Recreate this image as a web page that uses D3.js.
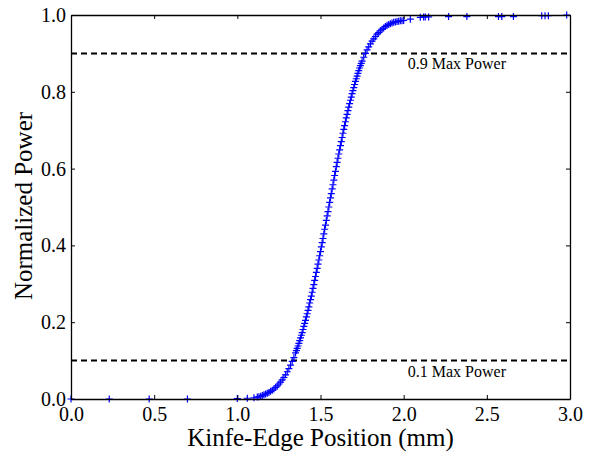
<!DOCTYPE html>
<html>
<head>
<meta charset="utf-8">
<script src="https://cdn.jsdelivr.net/npm/d3@7"></script>
<style>
body { margin: 0; background: white; }
.axis path, .axis line { stroke: #000; }
.axis text { font-family: "Liberation Serif", "DejaVu Serif", serif; font-size: 20px; fill: #000; }
</style>
</head>
<body>
<script>

// knife-edge position (mm) and normalized power
const position = [
  0.00, 0.23, 0.47, 0.70, 1.00, 1.06, 1.10, 1.12, 1.13, 1.14, 1.15, 1.16, 1.17, 1.18, 1.19,
  1.20, 1.21, 1.22, 1.23, 1.24, 1.25, 1.26, 1.27, 1.28, 1.29, 1.30, 1.31, 1.32, 1.33, 1.34,
  1.35, 1.355, 1.36, 1.365, 1.37, 1.375, 1.38, 1.385, 1.39, 1.395, 1.40, 1.405, 1.41, 1.415,
  1.42, 1.425, 1.43, 1.435, 1.44, 1.445, 1.45, 1.455, 1.46, 1.465, 1.47, 1.475, 1.48, 1.485,
  1.49, 1.495, 1.50, 1.505, 1.51, 1.515, 1.52, 1.525, 1.53, 1.535, 1.54, 1.545, 1.55, 1.555,
  1.56, 1.565, 1.57, 1.575, 1.58, 1.585, 1.59, 1.595, 1.60, 1.605, 1.61, 1.615, 1.62, 1.625,
  1.63, 1.635, 1.64, 1.645, 1.65, 1.655, 1.66, 1.665, 1.67, 1.675, 1.68, 1.685, 1.69, 1.695,
  1.70, 1.705, 1.71, 1.715, 1.72, 1.725, 1.73, 1.735, 1.74, 1.745, 1.75, 1.76, 1.77, 1.78,
  1.79, 1.80, 1.81, 1.82, 1.83, 1.84, 1.85, 1.86, 1.87, 1.88, 1.89, 1.90, 1.91, 1.92, 1.93,
  1.94, 1.95, 1.96, 1.97, 1.98, 1.99, 2.00, 2.04, 2.10, 2.12, 2.13, 2.15, 2.27, 2.38, 2.57,
  2.59, 2.66, 2.83, 2.85, 2.87, 2.98
];
const power = [
  0.000, 0.000, 0.000, 0.000, 0.001, 0.002, 0.003, 0.005, 0.006, 0.007, 0.009, 0.011, 0.013, 0.015, 0.017,
  0.020, 0.023, 0.026, 0.030, 0.034, 0.039, 0.044, 0.050, 0.056, 0.063, 0.071, 0.079, 0.088, 0.098, 0.108,
  0.120, 0.126, 0.132, 0.138, 0.145, 0.152, 0.159, 0.166, 0.173, 0.181, 0.189, 0.197, 0.205, 0.214,
  0.222, 0.231, 0.240, 0.250, 0.259, 0.268, 0.278, 0.288, 0.298, 0.309, 0.319, 0.330, 0.340, 0.351,
  0.362, 0.373, 0.384, 0.396, 0.407, 0.418, 0.430, 0.442, 0.453, 0.465, 0.477, 0.488, 0.500, 0.512,
  0.524, 0.535, 0.547, 0.558, 0.570, 0.582, 0.593, 0.605, 0.616, 0.627, 0.638, 0.649, 0.660, 0.670,
  0.681, 0.692, 0.702, 0.712, 0.722, 0.732, 0.741, 0.751, 0.760, 0.769, 0.778, 0.786, 0.795, 0.803,
  0.811, 0.819, 0.827, 0.834, 0.841, 0.848, 0.855, 0.862, 0.868, 0.874, 0.880, 0.890, 0.900, 0.909,
  0.917, 0.925, 0.932, 0.938, 0.944, 0.950, 0.954, 0.959, 0.963, 0.966, 0.970, 0.973, 0.975, 0.977, 0.979,
  0.981, 0.982, 0.983, 0.984, 0.985, 0.985, 0.986, 0.989, 0.994, 0.995, 0.995, 0.995, 0.996, 0.996, 0.996,
  0.996, 0.996, 0.998, 0.998, 0.998, 1.000
];

const refLevels = [0.9, 0.1];
const refLabels = ["0.9 Max Power", "0.1 Max Power"];
const xTicks = [0, 0.5, 1.0, 1.5, 2.0, 2.5, 3.0];
const yTicks = [0, 0.2, 0.4, 0.6, 0.8, 1.0];

const svg = d3.select("body").append("svg")
  .attr("width", 589)
  .attr("height", 452);

const margin = {top: 15, right: 19, bottom: 53, left: 71};
const width = 589 - margin.left - margin.right;
const height = 452 - margin.top - margin.bottom;
const g = svg.append("g").attr("transform", `translate(${margin.left}, ${margin.top})`);

const xScale = d3.scaleLinear().domain([0, 3]).range([0, width]);
const yScale = d3.scaleLinear().domain([0, 1]).range([height, 0]);

const fmt = d3.format(".1f");

// dashed reference lines
g.selectAll("line.ref").data(refLevels).enter()
  .append("line")
  .attr("class", "ref")
  .attr("x1", 0).attr("x2", width)
  .attr("y1", d => yScale(d)).attr("y2", d => yScale(d))
  .attr("stroke", "#000")
  .attr("stroke-width", 2)
  .attr("stroke-dasharray", "6,4");

g.selectAll("text.ref").data(refLevels).enter()
  .append("text")
  .attr("class", "ref")
  .attr("x", xScale(2.32))
  .attr("y", d => yScale(d) + 16)
  .attr("text-anchor", "middle")
  .attr("font-family", "Liberation Serif, DejaVu Serif, serif")
  .attr("font-size", 16)
  .text((d, i) => refLabels[i]);

// plus markers
const pts = position.map((p, i) => [p, power[i]]);
g.selectAll("path.pt").data(pts).enter()
  .append("path")
  .attr("class", "pt")
  .attr("d", d => {
    const x = xScale(d[0]), y = yScale(d[1]);
    return `M${x - 3.5},${y}H${x + 3.5}M${x},${y - 3.5}V${y + 3.5}`;
  })
  .attr("stroke", "#0000ff")
  .attr("stroke-width", 1.2)
  .attr("fill", "none");

// axes, ticks pointing inward on all four sides
g.append("g").attr("class", "axis")
  .attr("transform", `translate(0, ${height})`)
  .call(d3.axisBottom(xScale).tickValues(xTicks).tickFormat(fmt).tickSize(-4).tickSizeOuter(0).tickPadding(8));
g.append("g").attr("class", "axis")
  .call(d3.axisLeft(yScale).tickValues(yTicks).tickFormat(fmt).tickSize(-4).tickSizeOuter(0).tickPadding(5));
g.append("g").attr("class", "axis")
  .call(d3.axisTop(xScale).tickValues(xTicks).tickFormat("").tickSize(-4).tickSizeOuter(0));
g.append("g").attr("class", "axis")
  .attr("transform", `translate(${width}, 0)`)
  .call(d3.axisRight(yScale).tickValues(yTicks).tickFormat("").tickSize(-4).tickSizeOuter(0));

g.selectAll(".axis path.domain").attr("stroke-width", 1.3);

// axis titles
svg.append("text")
  .attr("x", margin.left + width / 2)
  .attr("y", 446)
  .attr("text-anchor", "middle")
  .attr("font-family", "Liberation Serif, DejaVu Serif, serif")
  .attr("font-size", 25)
  .text("Kinfe-Edge Position (mm)");

svg.append("text")
  .attr("transform", `translate(32, 206) rotate(-90)`)
  .attr("text-anchor", "middle")
  .attr("font-family", "Liberation Serif, DejaVu Serif, serif")
  .attr("font-size", 25)
  .text("Normalized Power");

</script>
</body>
</html>
